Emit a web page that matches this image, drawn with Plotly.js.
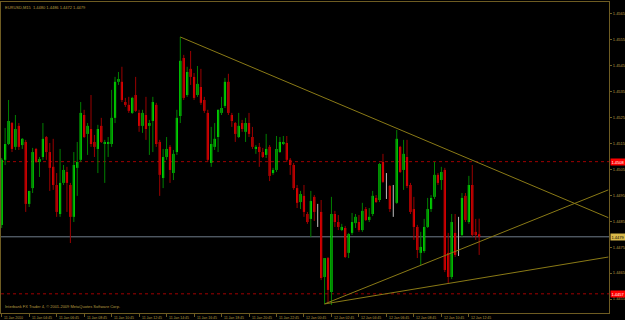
<!DOCTYPE html>
<html><head><meta charset="utf-8">
<script src="https://cdn.plot.ly/plotly-3.0.1.min.js"></script>
<style>html,body{margin:0;padding:0;background:#000;}#chart{width:625px;height:320px;}</style>
</head><body><div id="chart"></div>
<script>
// EURUSD M15 candles (index order, oldest first)
const openP = [1.44836,1.45087,1.45148,1.45229,1.45137,1.45218,1.45144,1.45156,1.44917,1.44978,
1.45129,1.45079,1.45098,1.45175,1.45117,1.45060,1.44990,1.44878,1.44998,1.45040,
1.44990,1.44867,1.45056,1.45087,1.45260,1.45187,1.45206,1.45156,1.45129,1.45218,
1.45148,1.45148,1.45148,1.45249,1.45388,1.45388,1.45310,1.45299,1.45268,1.45337,
1.45268,1.45218,1.45260,1.45218,1.45237,1.45299,1.45156,1.45017,1.45098,1.45137,
1.45036,1.45117,1.45256,1.45480,1.45337,1.45438,1.45407,1.45337,1.45368,1.45318,
1.45268,1.45075,1.45137,1.45175,1.45268,1.45295,1.45388,1.45260,1.45229,1.45175,
1.45229,1.45195,1.45229,1.45175,1.45129,1.45137,1.45117,1.45106,1.45137,1.45036,
1.45048,1.45117,1.45148,1.45152,1.45087,1.45067,1.44978,1.44924,1.44948,1.44878,
1.44859,1.44944,1.44901,1.44886,1.44635,1.44708,1.44577,1.44878,1.44847,1.44816,
1.44824,1.44728,1.44805,1.44843,1.44847,1.44816,1.44897,1.44855,1.44878,1.44940,
1.44932,1.45079,1.44998,1.44986,1.44909,1.44921,1.45137,1.45048,1.45098,1.44990,
1.44897,1.44828,1.44728,1.44735,1.44828,1.44897,1.44944,1.45029,1.45009,1.45048,
1.44728,1.44635,1.44805,1.44789,1.44797,1.44948,1.44847,1.44990,1.44809,1.4480];
const highP = [1.45094,1.45210,1.45318,1.45233,1.45260,1.45229,1.45171,1.45164,1.44967,1.45133,
1.45133,1.45098,1.45229,1.45179,1.45152,1.45168,1.45036,1.45129,1.45067,1.45060,
1.44998,1.45117,1.45156,1.45310,1.45280,1.45229,1.45337,1.45183,1.45222,1.45249,
1.45164,1.45175,1.45357,1.45407,1.45426,1.45446,1.45326,1.45330,1.45330,1.45407,
1.45280,1.45280,1.45330,1.45241,1.45330,1.45307,1.45164,1.45129,1.45175,1.45144,
1.45125,1.45280,1.45561,1.45492,1.45446,1.45507,1.45422,1.45449,1.45438,1.45330,
1.45280,1.45214,1.45229,1.45280,1.45330,1.45403,1.45419,1.45268,1.45233,1.45268,
1.45241,1.45249,1.45268,1.45214,1.45144,1.45152,1.45133,1.45187,1.45144,1.45056,
1.45179,1.45175,1.45179,1.45179,1.45094,1.45075,1.44990,1.44967,1.44990,1.44886,
1.44967,1.44951,1.44917,1.44932,1.44708,1.44712,1.44944,1.44890,1.44874,1.44840,
1.44832,1.44805,1.44882,1.44878,1.44874,1.44921,1.44905,1.44901,1.44967,1.44951,
1.45075,1.45110,1.45036,1.44990,1.44990,1.45202,1.45141,1.45164,1.45164,1.44998,
1.44944,1.44836,1.44809,1.44859,1.44940,1.44951,1.45079,1.45036,1.45060,1.45056,
1.44805,1.44878,1.44878,1.44867,1.44959,1.44959,1.45025,1.45067,1.44859,1.4486];
const lowP = [1.44824,1.45067,1.45144,1.45117,1.45125,1.45125,1.45129,1.44886,1.44905,1.44959,
1.45075,1.45021,1.45087,1.45087,1.44967,1.44971,1.44867,1.44867,1.44990,1.44886,
1.44766,1.44847,1.44948,1.45079,1.45171,1.45106,1.45137,1.45098,1.45036,1.45152,
1.44998,1.45098,1.45137,1.45229,1.45376,1.45310,1.45291,1.45268,1.45264,1.45272,
1.45195,1.45191,1.45164,1.45106,1.45117,1.45137,1.44948,1.44978,1.45087,1.44998,
1.45009,1.45106,1.45229,1.45318,1.45330,1.45376,1.45318,1.45330,1.45299,1.45268,
1.45079,1.45060,1.45125,1.45117,1.45260,1.45287,1.45260,1.45214,1.45156,1.45171,
1.45195,1.45156,1.45175,1.45129,1.45110,1.45060,1.45094,1.45094,1.45005,1.45029,
1.45040,1.45114,1.45144,1.45079,1.45029,1.44971,1.44901,1.44897,1.44867,1.44840,
1.44789,1.44851,1.44828,1.44623,1.44531,1.44535,1.44527,1.44828,1.44816,1.44812,
1.44708,1.44708,1.44797,1.44824,1.44809,1.44809,1.44851,1.44847,1.44870,1.44921,
1.44924,1.44998,1.44936,1.44886,1.44867,1.44917,1.45036,1.44971,1.44978,1.44878,
1.44778,1.44708,1.44681,1.44728,1.44824,1.44886,1.44936,1.44990,1.44971,1.44654,
1.44612,1.44627,1.44712,1.44716,1.44789,1.44847,1.44840,1.44789,1.44778,1.4472];
const closeP = [1.45087,1.45148,1.45237,1.45129,1.45206,1.45137,1.45168,1.44917,1.44967,1.45117,
1.45079,1.45090,1.45168,1.45117,1.45056,1.44990,1.44886,1.44998,1.45048,1.44998,
1.44867,1.45067,1.45079,1.45268,1.45175,1.45218,1.45148,1.45137,1.45206,1.45156,
1.45156,1.45156,1.45249,1.45388,1.45399,1.45318,1.45299,1.45276,1.45326,1.45276,
1.45218,1.45268,1.45206,1.45229,1.45310,1.45148,1.45029,1.45098,1.45129,1.45048,
1.45110,1.45249,1.45469,1.45326,1.45426,1.45407,1.45326,1.45380,1.45307,1.45276,
1.45087,1.45148,1.45168,1.45280,1.45287,1.45388,1.45268,1.45237,1.45187,1.45218,
1.45206,1.45229,1.45187,1.45137,1.45137,1.45117,1.45098,1.45129,1.45025,1.45048,
1.45129,1.45156,1.45156,1.45087,1.45067,1.44978,1.44921,1.44955,1.44886,1.44847,
1.44928,1.44886,1.44901,1.44631,1.44708,1.44585,1.44878,1.44847,1.44828,1.44828,
1.44712,1.44801,1.44847,1.44867,1.44816,1.44890,1.44855,1.44867,1.44948,1.44924,
1.45071,1.45002,1.44998,1.44897,1.44909,1.45168,1.45040,1.45110,1.44986,1.44886,
1.44828,1.44739,1.44751,1.44828,1.44897,1.44940,1.45029,1.44998,1.45040,1.44662,
1.44635,1.44847,1.44720,1.44789,1.44940,1.44855,1.44990,1.44797,1.44797,1.4479];

const xTickLabels = ["11 Jan 2010","11 Jan 04:45","11 Jan 06:45","11 Jan 08:45","11 Jan 10:45","11 Jan 12:45",
"11 Jan 14:45","11 Jan 16:45","11 Jan 18:45","11 Jan 20:45","11 Jan 22:45","12 Jan 00:45","12 Jan 02:45",
"12 Jan 04:45","12 Jan 06:45","12 Jan 08:45","12 Jan 10:45","12 Jan 12:45"];
const barsPerLabel = 8;
const yTickValues = [1.4455,1.4465,1.4475,1.4485,1.4495,1.4505,1.4515,1.4525,1.4535,1.4545,1.4555,1.4565];
const bidPrice = 1.4479;
const levelPrices = [1.4508, 1.4457];
const trend1Idx = [52, 176.6], trend1Price = [1.45561, 1.44864];
const trend2Idx = [94, 176.6], trend2Price = [1.44531, 1.44971];
const trend3Idx = [94, 176.6], trend3Price = [1.44531, 1.44712];
const titleText = "EURUSD,M15  1.4480 1.4486 1.4472 1.4479";
const footerText = "Interbank FX Trader 4, \u00a9 2001-2009 MetaQuotes Software Corp.";

const GOLD = '#b89c40', FRAME = '#6e5c22';
const n = closeP.length;
const idx = Array.from({length: n}, (_, i) => i);
const kind = idx.map(i => closeP[i] > openP[i] ? 'up' : (closeP[i] < openP[i] ? 'down' : 'doji'));

function wicks(k, color) {
  const xs = [], ys = [];
  idx.forEach(i => { if (kind[i] === k) { xs.push(i, i, null); ys.push(highP[i], lowP[i], null); } });
  return {type: 'scatter', mode: 'lines', x: xs, y: ys, line: {color: color, width: 1}, hoverinfo: 'skip', showlegend: false};
}
function bodies(k, color) {
  const sel = idx.filter(i => kind[i] === k);
  return {type: 'bar', x: sel, base: sel.map(i => Math.min(openP[i], closeP[i])),
    y: sel.map(i => Math.abs(closeP[i] - openP[i])), width: 0.64,
    marker: {color: color, line: {width: 0}}, hoverinfo: 'skip', showlegend: false};
}
function trend(xs, ys) {
  return {type: 'scatter', mode: 'lines', x: xs, y: ys, line: {color: '#8a7a16', width: 1}, hoverinfo: 'skip', showlegend: false};
}

const data = [
  wicks('up', '#008000'), wicks('down', '#9b0000'), wicks('doji', '#c0c0c0'),
  bodies('up', '#00ff00'), bodies('down', '#ff0000'),
  trend(trend1Idx, trend1Price), trend(trend2Idx, trend2Price), trend(trend3Idx, trend3Price)
];

const shapes = [
  {type: 'line', xref: 'paper', x0: 0, x1: 1, yref: 'y', y0: bidPrice, y1: bidPrice, line: {color: '#6f7c8a', width: 1}, layer: 'below'}
].concat(levelPrices.map(p => ({type: 'line', xref: 'paper', x0: 0, x1: 1, yref: 'y', y0: p, y1: p,
  line: {color: '#a00000', width: 1, dash: 'dot'}, layer: 'below'})));

const font = 'Liberation Sans, Arial, sans-serif';
const annotations = [
  {xref: 'paper', yref: 'paper', x: 0, y: 1, xanchor: 'left', yanchor: 'top', xshift: 2, yshift: -1,
   text: titleText, showarrow: false, font: {family: font, size: 4, color: GOLD}},
  {xref: 'paper', yref: 'paper', x: 0, y: 0, xanchor: 'left', yanchor: 'bottom', xshift: 2, yshift: 2,
   text: footerText, showarrow: false, font: {family: font, size: 4, color: GOLD}}
];
xTickLabels.forEach((t, k) => annotations.push({xref: 'x', yref: 'paper', x: k * barsPerLabel, y: 0,
  xanchor: 'left', yanchor: 'top', xshift: 0.5, yshift: -0.5, text: t, showarrow: false,
  font: {family: font, size: 3.5, color: GOLD}}));
levelPrices.forEach(p => annotations.push({xref: 'paper', yref: 'y', x: 1, y: p, xanchor: 'left', yanchor: 'middle',
  xshift: 1, text: p.toFixed(4), showarrow: false, bgcolor: '#ff0000', borderpad: 0.5,
  font: {family: font, size: 4, color: '#ffffff'}}));
annotations.push({xref: 'paper', yref: 'y', x: 1, y: bidPrice, xanchor: 'left', yanchor: 'middle',
  xshift: 1, text: bidPrice.toFixed(4), showarrow: false, bgcolor: '#d8b84a', borderpad: 0.5,
  font: {family: font, size: 4, color: '#000000'}});

const layout = {
  width: 625, height: 320,
  margin: {l: 1, r: 16, t: 2, b: 7, pad: 0},
  paper_bgcolor: '#000000', plot_bgcolor: '#000000',
  barmode: 'overlay', showlegend: false,
  xaxis: {range: [-0.2, 176.8], showgrid: false, zeroline: false, showline: true, mirror: true,
    linecolor: FRAME, linewidth: 1, tickvals: xTickLabels.map((_, k) => k * barsPerLabel),
    ticks: 'outside', ticklen: 3, tickcolor: FRAME, showticklabels: false, fixedrange: true},
  yaxis: {range: [1.44496, 1.45696], side: 'right', showgrid: false, zeroline: false, showline: true,
    mirror: true, linecolor: FRAME, linewidth: 1, tickvals: yTickValues,
    ticktext: yTickValues.map(v => v.toFixed(4)), ticks: 'outside', ticklen: 2, tickcolor: FRAME,
    tickfont: {family: font, size: 4, color: GOLD}, fixedrange: true},
  shapes: shapes, annotations: annotations
};
Plotly.newPlot('chart', data, layout, {staticPlot: true, displayModeBar: false});
</script></body></html>
